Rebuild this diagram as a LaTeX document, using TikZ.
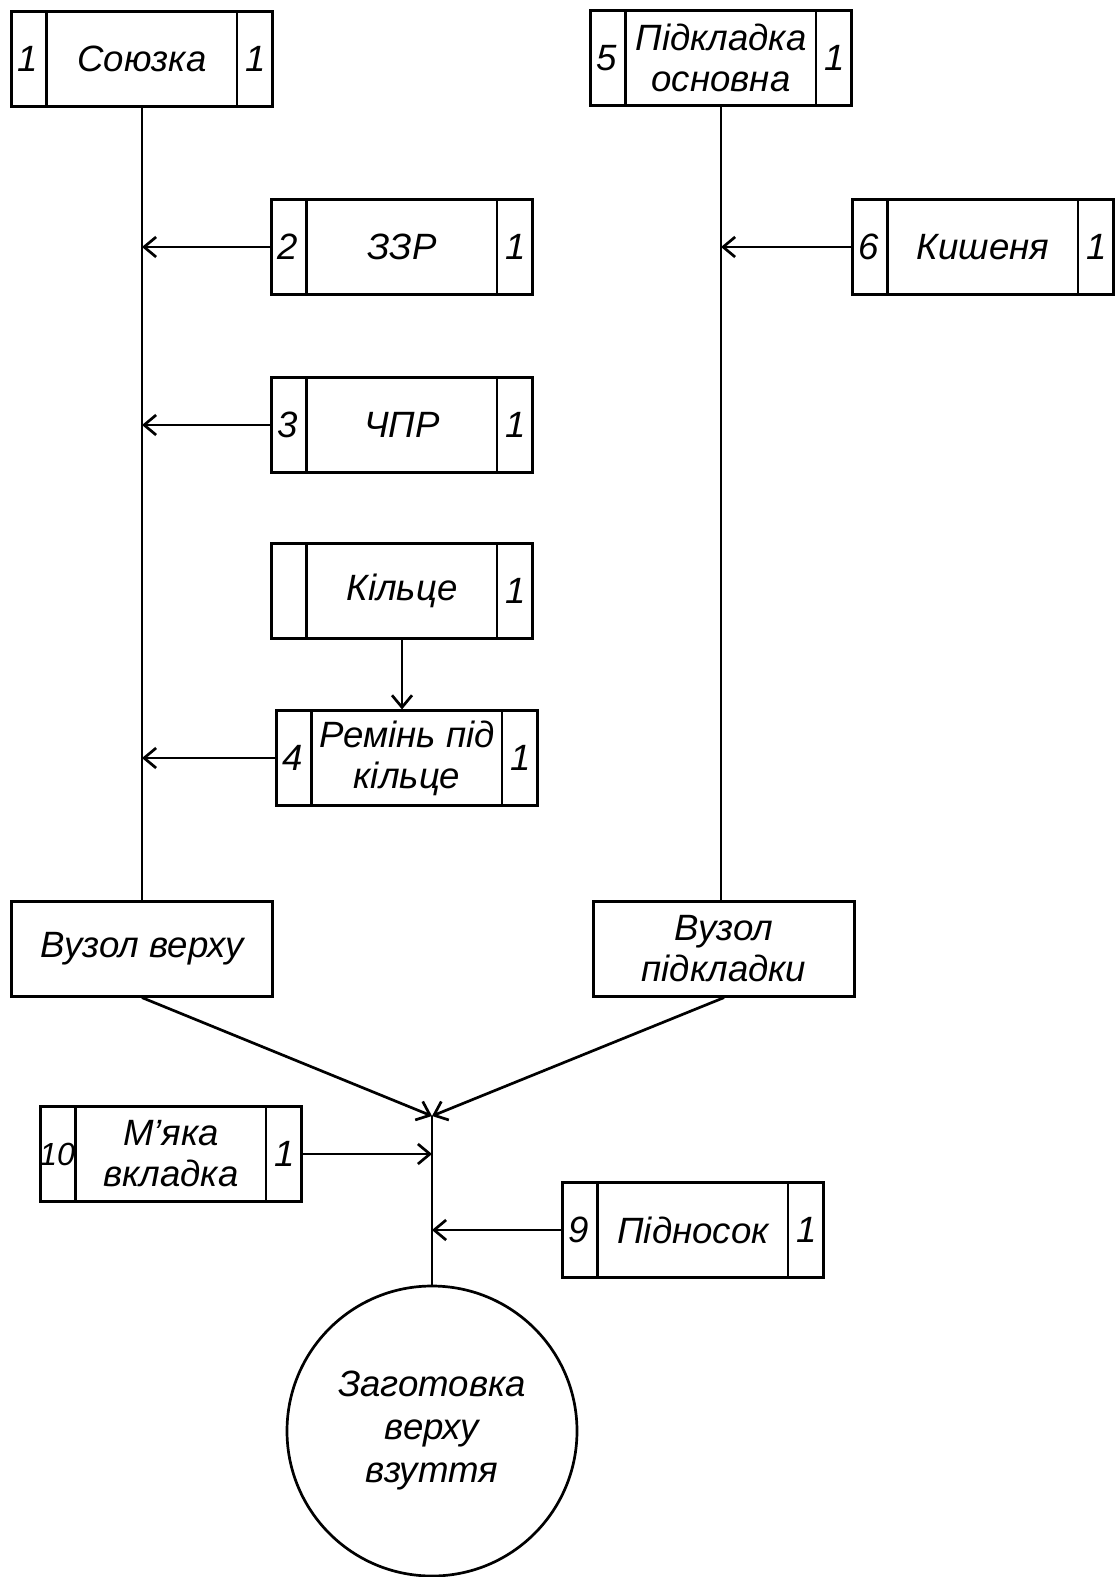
\documentclass[tikz,border=0pt]{standalone}
\usepackage{fontspec}
\setmainfont{Liberation Sans}
\usetikzlibrary{calc,arrows.meta}
\newcommand\boxfont{\fontsize{18.3}{20.5}\selectfont\itshape}
\tikzset{
  partbox/.style={draw, minimum width=130.5pt, minimum height=47.25pt, inner sep=0pt, align=center, font=\boxfont},
  plainbox/.style={partbox},
  numtext/.style={inner sep=0pt, font=\boxfont},
  link/.style={-{Straight Barb[length=6pt,width=10pt]}},
}
\def\partbox(#1)(#2)(#3:#4:#5){%
  \node[partbox] (#1) at (#2) {#4};
  \draw ([xshift=18pt]#1.north west) -- ([xshift=18pt]#1.south west);
  \draw ([xshift=-18.5pt]#1.north east) -- ([xshift=-18.5pt]#1.south east);
  \node[numtext] at ([xshift=9pt]#1.west) {#3};
  \node[numtext] at ([xshift=-9.25pt]#1.east) {#5};
}
\begin{document}
\begin{tikzpicture}[x=0.5pt, y=-0.5pt, line width=1.35pt]
			%%%%% START %%%%%
			\useasboundingbox (0, 0) rectangle (1115, 1577);
			
			\partbox(soyuzka)(142, 59)(1:Союзка:1)
			\partbox(zzr)(402, 247)(2:ЗЗР:1)
			\partbox(chpr)(402, 425)(3:ЧПР:1)
			\partbox(kiltse)(402, 591)(:Кільце:1)
			\partbox(remin)(407, 758)(4:Ремінь під\\кільце:1)
			\node[plainbox] (vuzverkh) at (142, 949) {Вузол верху};
			
			\partbox(pidkl)(721, 58)(5:Підкладка\\основна:1)
			\partbox(kyshenia)(983, 247)(6:Кишеня:1)
			\node[plainbox] (vuzpidkl) at (724, 949) {Вузол\\підкладки};
			
			\partbox(miaka)(171, 1154)({\fontsize{16}{18}\selectfont 10}:М’яка\\вкладка:1)
			\partbox(pidnosok)(693, 1230)(9:Підносок:1)
			
			\node[draw, circle, minimum size=145pt, inner sep=0pt, align=center, font=\fontsize{18.3}{21.5}\selectfont\itshape] (zagot) at (432, 1431) {Заготовка\\верху\\взуття};
			\coordinate (junc) at (432, 1116);
			
			% left branch
			\draw (soyuzka.south) -- (vuzverkh.north);
			\draw[link] (zzr.west) -- (zzr.west -| soyuzka.south);
			\draw[link] (chpr.west) -- (chpr.west -| soyuzka.south);
			\draw[link] (kiltse.south) -- (kiltse.south |- remin.north);
			\draw[link] (remin.west) -- (remin.west -| soyuzka.south);
			
			% right branch
			\draw (pidkl.south) -- (pidkl.south |- vuzpidkl.north);
			\draw[link] (kyshenia.west) -- (kyshenia.west -| pidkl.south);
			
			% assembly
			\draw[link] (vuzverkh.south) -- (junc);
			\draw[link] (vuzpidkl.south) -- (junc);
			\draw (junc) -- (zagot.north);
			\draw[link] (miaka.east) -- (miaka.east -| junc);
			\draw[link] (pidnosok.west) -- (pidnosok.west -| junc);
			
			%%%%% END %%%%%
\end{tikzpicture}
\end{document}
